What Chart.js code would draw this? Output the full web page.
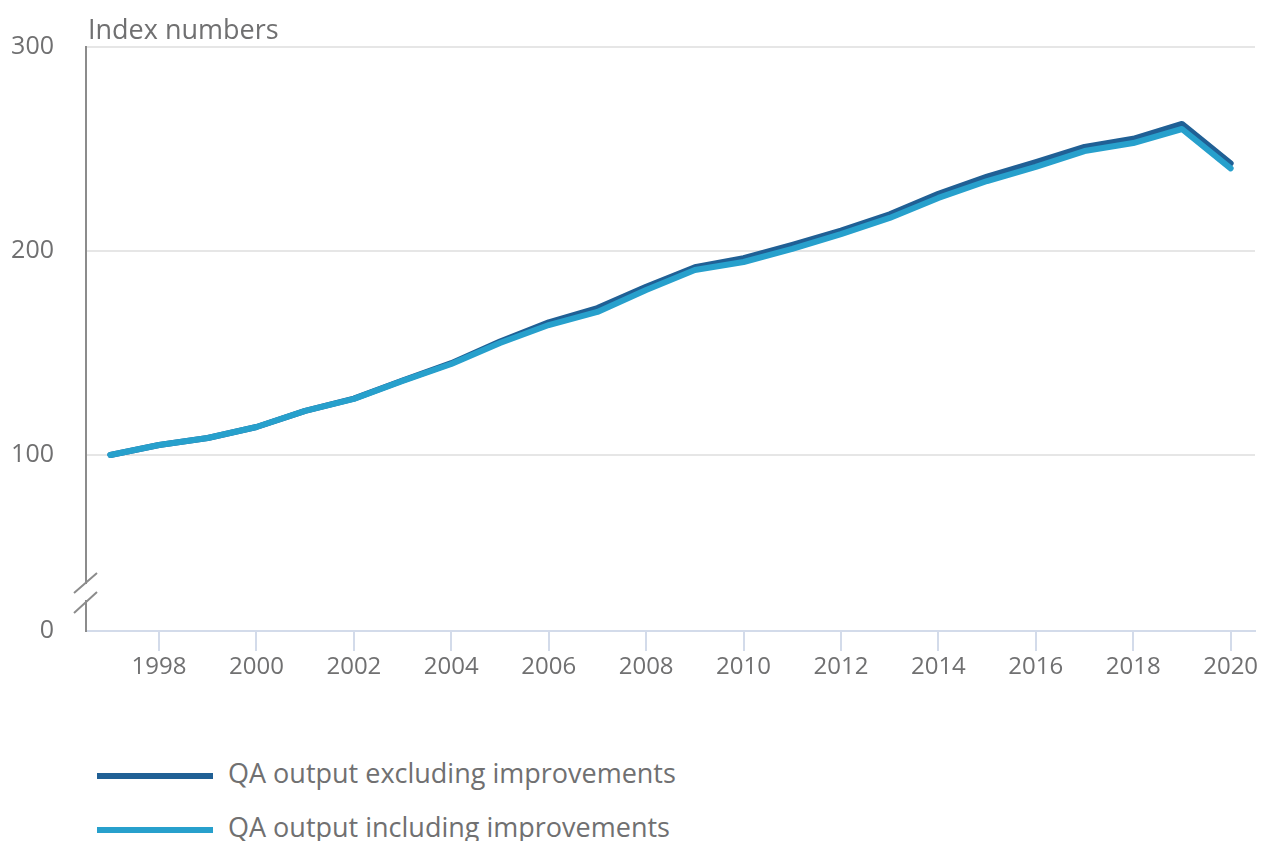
<!DOCTYPE html>
<html>
<head>
<meta charset="utf-8">
<script src="https://cdn.jsdelivr.net/npm/chart.js@4/dist/chart.umd.min.js"></script>
<style>
  body { margin: 0; background: #fff; font-family: "Open Sans", sans-serif; }
  #wrap { position: relative; width: 1262px; height: 841px; overflow: hidden; }
  #box { position: absolute; left: 0; top: 0; width: 1262px; height: 700px; }
  #ytitle { position: absolute; left: 88px; top: 10px; font-size: 27px; color: #707071; }
  .leg { position: absolute; left: 97px; font-size: 27px; color: #707071; white-space: nowrap; line-height: 36px; }
  .leg span.sw { display: inline-block; width: 116px; height: 6px; vertical-align: middle; margin-right: 15px; }
</style>
</head>
<body>
<div id="wrap">
  <div id="box"><canvas id="chart"></canvas></div>
  <div id="ytitle">Index numbers</div>
  <div class="leg" style="top:755px"><span class="sw" style="background:#206095"></span>QA output excluding improvements</div>
  <div class="leg" style="top:809px"><span class="sw" style="background:#27a0cc"></span>QA output including improvements</div>
</div>
<script>
// Data
const years = [1997, 1998, 1999, 2000, 2001, 2002, 2003, 2004, 2005, 2006, 2007, 2008,
  2009, 2010, 2011, 2012, 2013, 2014, 2015, 2016, 2017, 2018, 2019, 2020];
const excludingImprovements = [100, 104.9, 108.3, 113.7, 121.6, 127.6, 136.5, 145, 155.6, 165, 172, 182.5,
  192, 196.5, 203, 210, 218, 228, 236.5, 243.5, 251, 255, 262.3, 243];
const includingImprovements = [100, 104.9, 108.3, 113.7, 121.6, 127.5, 136.3, 144.6, 154.9, 163.7, 170.1, 180.9,
  190.7, 194.6, 201, 208.3, 216.2, 226, 234.3, 241.2, 249, 252.9, 259.8, 240.5];
const yTickValues = [100, 200, 300];
const yBreakMin = 13.7; // bottom of the broken axis, labelled "0"

const gray = "#707071";

// Draw the axis break marks on the y axis
const axisBreak = {
  id: "axisBreak",
  afterDraw(chart) {
    const ctx = chart.ctx;
    const x = chart.scales.y.right;
    ctx.save();
    ctx.fillStyle = "#fff";
    ctx.fillRect(x - 3, 584, 6, 16);
    ctx.strokeStyle = "#8c8c8c";
    ctx.lineWidth = 2;
    ctx.beginPath();
    ctx.moveTo(x - 12, 593); ctx.lineTo(x + 11, 573);
    ctx.moveTo(x - 12, 613); ctx.lineTo(x + 11, 592);
    ctx.stroke();
    ctx.restore();
  }
};

const ctx = document.getElementById("chart").getContext("2d");
new Chart(ctx, {
  type: "line",
  data: {
    datasets: [
      {
        label: "QA output excluding improvements",
        data: years.map((yr, i) => ({ x: yr, y: excludingImprovements[i] })),
        borderColor: "#206095",
        order: 2
      },
      {
        label: "QA output including improvements",
        data: years.map((yr, i) => ({ x: yr, y: includingImprovements[i] })),
        borderColor: "#27a0cc",
        order: 1
      }
    ]
  },
  options: {
    responsive: true,
    maintainAspectRatio: false,
    animation: false,
    elements: {
      point: { radius: 0 },
      line: { borderWidth: 6, tension: 0, borderJoinStyle: "round", borderCapStyle: "round" }
    },
    layout: { padding: { top: 47, right: 7, left: 0, bottom: 0 } },
    plugins: { legend: { display: false }, tooltip: { enabled: false } },
    scales: {
      x: {
        type: "linear",
        min: 1996.5,
        max: 2020.5,
        afterBuildTicks: (scale) => {
          scale.ticks = years.filter((y) => y % 2 === 0).map((v) => ({ value: v }));
        },
        afterFit: (scale) => { scale.height = 69; },
        ticks: {
          callback: (v) => String(v),
          color: gray,
          font: { family: "Open Sans", size: 24 },
          padding: 2,
          maxRotation: 0
        },
        grid: { drawOnChartArea: false, drawTicks: true, tickLength: 20, color: "#d3dbea", lineWidth: 2 },
        border: { color: "#d3dbea", width: 2 }
      },
      y: {
        min: yBreakMin,
        max: 300,
        afterBuildTicks: (scale) => {
          scale.ticks = [yBreakMin, ...yTickValues].map((v) => ({ value: v }));
        },
        afterFit: (scale) => { scale.width = 86; },
        ticks: {
          callback: (v) => (v === yBreakMin ? "0" : String(v)),
          color: gray,
          font: { family: "Open Sans", size: 25 },
          padding: 32
        },
        grid: {
          drawTicks: false,
          lineWidth: 2,
          color: (c) => (c.tick && c.tick.value === yBreakMin ? "rgba(0,0,0,0)" : "#e6e6e6")
        },
        border: { color: "#8c8c8c", width: 2 }
      }
    }
  },
  plugins: [axisBreak]
});
</script>
</body>
</html>
